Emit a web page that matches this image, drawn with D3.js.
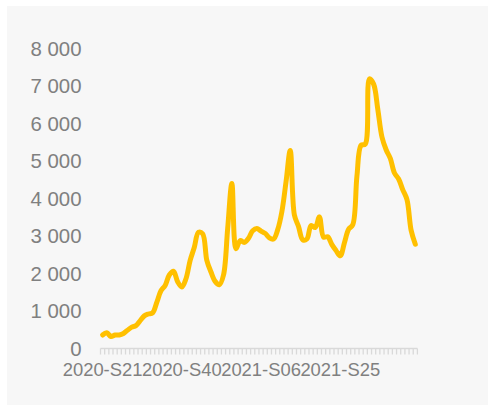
<!DOCTYPE html>
<html>
<head>
<meta charset="utf-8">
<script src="https://cdn.jsdelivr.net/npm/d3@7"></script>
<style>
  html, body { margin: 0; padding: 0; background: #ffffff; }
  svg { display: block; }
  text { font-family: "Liberation Sans", Arial, sans-serif; fill: #808080; }
</style>
</head>
<body>
<svg id="chart" width="488" height="405"></svg>
<script>
// Weekly categories (ISO weeks)
const weeks = [
  "2020-S21","2020-S22","2020-S23","2020-S24","2020-S25","2020-S26","2020-S27","2020-S28",
  "2020-S29","2020-S30","2020-S31","2020-S32","2020-S33","2020-S34","2020-S35","2020-S36",
  "2020-S37","2020-S38","2020-S39","2020-S40","2020-S41","2020-S42","2020-S43","2020-S44",
  "2020-S45","2020-S46","2020-S47","2020-S48","2020-S49","2020-S50","2020-S51","2020-S52",
  "2020-S53","2021-S01","2021-S02","2021-S03","2021-S04","2021-S05","2021-S06","2021-S07",
  "2021-S08","2021-S09","2021-S10","2021-S11","2021-S12","2021-S13","2021-S14","2021-S15",
  "2021-S16","2021-S17","2021-S18","2021-S19","2021-S20","2021-S21","2021-S22","2021-S23",
  "2021-S24","2021-S25","2021-S26","2021-S27","2021-S28","2021-S29","2021-S30","2021-S31",
  "2021-S32","2021-S33","2021-S34","2021-S35","2021-S36","2021-S37","2021-S38","2021-S39",
  "2021-S40","2021-S41","2021-S42","2021-S43"
];

// Weekly counts
const counts = [
  360, 420, 320, 360, 360, 400, 490, 570, 610, 740,
  870, 920, 950, 1230, 1540, 1680, 1960, 2060, 1780, 1640,
  1860, 2350, 2700, 3100, 3060, 2350, 2040, 1790, 1700, 1960,
  3200, 4400, 2660, 2880, 2830, 2940, 3140, 3200, 3130, 3070,
  2950, 2920, 3170, 3650, 4450, 5280, 3560, 3250, 2900, 2920,
  3280, 3230, 3510, 2970, 2980, 2770, 2610, 2470, 2820, 3180,
  3300, 4600, 5420, 5450, 7190, 7050, 6380, 5640, 5300, 5070,
  4680, 4520, 4230, 3970, 3150, 2780
];

// Value axis ticks
const yTicks = [0, 1000, 2000, 3000, 4000, 5000, 6000, 7000, 8000];

// Week labels shown on the category axis
const xLabels = ["2020-S21", "2020-S40", "2021-S06", "2021-S25"];

const svg = d3.select("#chart");
const W = 488, H = 405;

// chart area background
svg.append("rect")
  .attr("x", 7).attr("y", 6)
  .attr("width", W - 7).attr("height", H - 6)
  .attr("fill", "#f7f7f7");

const x = d3.scaleBand().domain(weeks).range([100.5, 417.4]).paddingInner(0).paddingOuter(0);
const y = d3.scaleLinear().domain([0, 8000]).range([348.5, 48.5]);

// French-style digit grouping
const fmt = d3.formatLocale({ decimal: ",", thousands: " ", grouping: [3], currency: ["", " €"] }).format(",d");

// value axis labels (no axis line, no gridlines)
const yAxis = d3.axisLeft(y).tickValues(yTicks).tickFormat(fmt).tickSize(0).tickPadding(0);
const gy = svg.append("g").attr("transform", "translate(81.5,0)").call(yAxis);
gy.select(".domain").remove();
gy.selectAll("text")
  .attr("font-family", "'Liberation Sans', Arial, sans-serif")
  .attr("font-size", 20.4)
  .attr("fill", "#808080");

// category axis line
const baseY = 348.5;
svg.append("line")
  .attr("x1", x.range()[0]).attr("x2", x.range()[1])
  .attr("y1", baseY).attr("y2", baseY)
  .attr("stroke", "#d9d9d9").attr("stroke-width", 1.5);

// tick marks between categories
const edges = weeks.map(w => x(w)).concat([x(weeks[weeks.length - 1]) + x.bandwidth()]);
svg.append("g").selectAll("line").data(edges).join("line")
  .attr("x1", d => d).attr("x2", d => d)
  .attr("y1", baseY).attr("y2", baseY + 6)
  .attr("stroke", "#d9d9d9").attr("stroke-width", 1.3);

// category labels
const xAxis = d3.axisBottom(x).tickValues(xLabels).tickSize(0).tickPadding(0);
const gx = svg.append("g").attr("transform", `translate(0,${baseY})`).call(xAxis);
gx.select(".domain").remove();
gx.selectAll("text")
  .attr("font-family", "'Liberation Sans', Arial, sans-serif")
  .attr("font-size", 18.4)
  .attr("fill", "#808080")
  .attr("dy", null)
  .attr("y", 27.5);

// smoothed series line
const line = d3.line()
  .x((d, i) => x(weeks[i]) + x.bandwidth() / 2)
  .y(d => y(d))
  .curve(d3.curveCatmullRom.alpha(0.5));

svg.append("path")
  .datum(counts)
  .attr("d", line)
  .attr("fill", "none")
  .attr("stroke", "#ffc000")
  .attr("stroke-width", 5)
  .attr("stroke-linejoin", "round")
  .attr("stroke-linecap", "round");
</script>
</body>
</html>
